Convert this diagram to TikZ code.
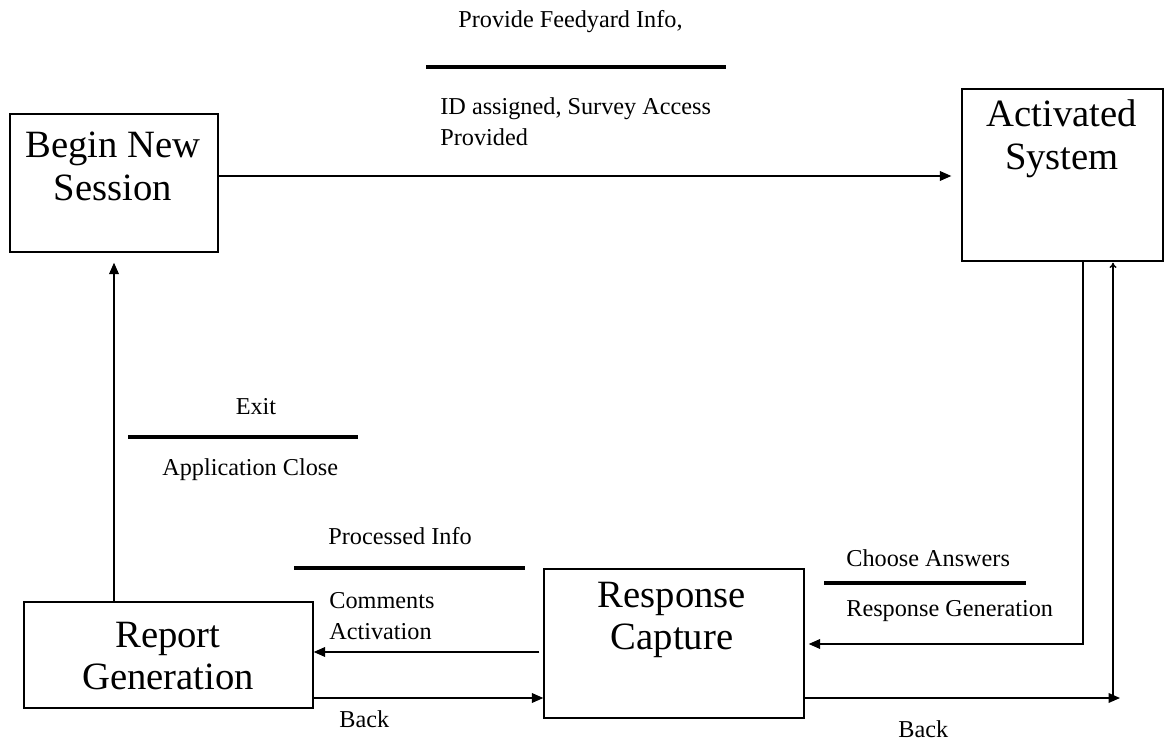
\documentclass[tikz,border=0pt]{standalone}
\usepackage{fontspec}
\setmainfont{Liberation Serif}
\usetikzlibrary{positioning, arrows.meta}

\begin{document}
\begin{tikzpicture}[
  x=0.02cm, y=-0.02cm,
  statebox/.style={draw, line width=0.8pt, rectangle, inner sep=0pt},
  boxtext/.style={font=\fontsize{22}{24.4}\selectfont, align=center},
  flowlabel/.style={font=\fontsize{13.8}{17.6}\selectfont, align=left, inner sep=0pt},
  bar/.style={line width=2.8pt},
  arrow/.style={-{Triangle[length=6.5pt, width=5.5pt]}, line width=0.8pt}
]
\useasboundingbox (0,0) rectangle (1165,742);

% ---- STATES ----
\node[statebox, minimum width=4.16cm, minimum height=2.76cm] (begin) at (114,183) {};
\node[boxtext] (begintxt) at (113,166) {Begin New\\Session};

\node[statebox, minimum width=4.02cm, minimum height=3.44cm] (act) at (1062.5,175) {};
\node[boxtext] (acttxt) at (1062,139) {Activated\\System};

\node[statebox, minimum width=5.78cm, minimum height=2.12cm] (rep) at (168.5,655) {};
\node[boxtext] (reptxt) at (168,656) {Report\\Generation};

\node[statebox, minimum width=5.2cm, minimum height=2.98cm] (resp) at (674,643.5) {};
\node[boxtext] (resptxt) at (672,620) {Response\\Capture};

% ---- Flow labels ----
\node[flowlabel, anchor=west] (provide) at (458,22) {Provide Feedyard Info,};
\draw[bar] (426,67) -- (726,67);
\node[flowlabel, anchor=west] (assigned) at (440,121.5) {ID assigned, Survey Access\\Provided};

\node[flowlabel] (exit) at (256,407) {Exit};
\draw[bar] (128,437) -- (358,437);
\node[flowlabel, anchor=west] (close) at (162,470) {Application Close};

\node[flowlabel, anchor=west] (processed) at (328,536) {Processed Info};
\draw[bar] (294,568) -- (525,568);
\node[flowlabel, anchor=west] (comments) at (329,616) {Comments\\Activation};

\node[flowlabel, anchor=west] (choose) at (846,558) {Choose Answers};
\draw[bar] (824,583) -- (1026,583);
\node[flowlabel, anchor=west] (respgen) at (846,611) {Response Generation};

\node[flowlabel, anchor=west] (back1) at (339,719) {Back};
\node[flowlabel, anchor=west] (back2) at (898,729) {Back};

% ---- Connectors ----
\coordinate (backend) at (1120,698);
\coordinate (backfoot) at (1113,698);

\draw[arrow, shorten >=0.2cm] (begin.east |- 0,176) -- (act.west |- 0,176);
\draw[arrow, shorten >=0.08cm] (act.south -| 1083,0) |- (resp.east |- 0,644);
\draw[arrow, shorten >=0.2cm] (begin.south |- rep.north) -- (begin.south);
\draw[arrow] ([xshift=-0.08cm]resp.west |- 0,652) -- (rep.east |- 0,652);
\draw[arrow] (rep.east |- 0,698) -- (resp.west |- 0,698);
\draw[arrow] (resp.east |- 0,698) -- (backend);
\draw[-{To[length=3pt, width=4pt]}, line width=0.8pt, shorten >=0.02cm] (backfoot) -- (act.south -| backfoot);

\end{tikzpicture}
\end{document}
